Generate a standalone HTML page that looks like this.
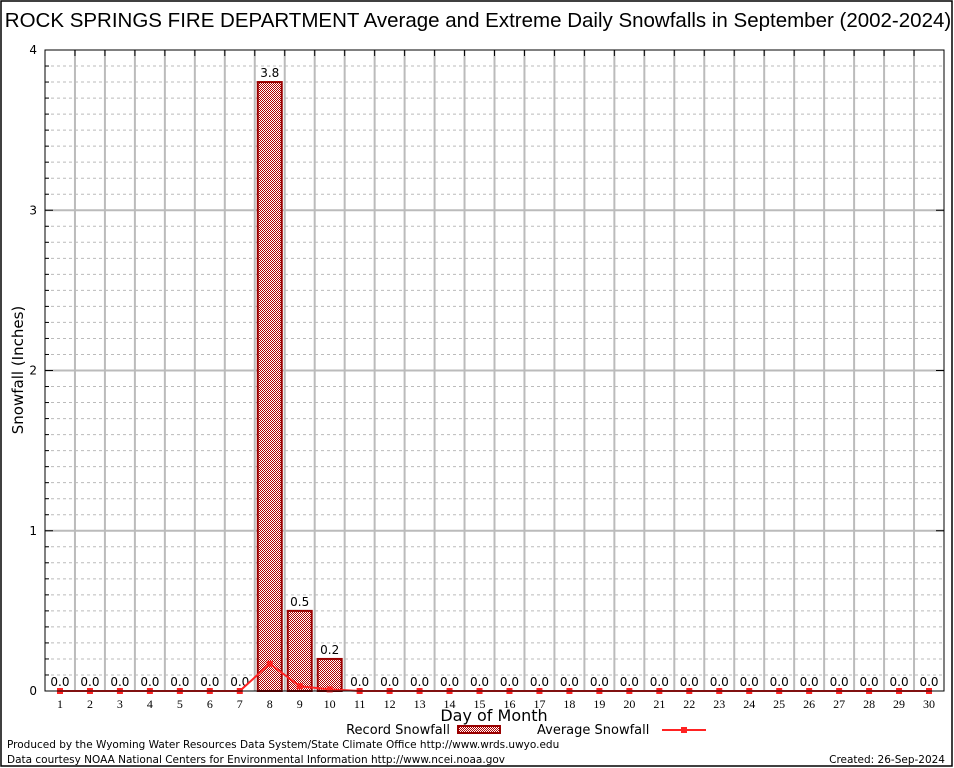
<!DOCTYPE html>
<html><head><meta charset="utf-8"><style>
body{margin:0;background:#fff;}
svg{display:block;font-family:"DejaVu Sans","Liberation Sans",sans-serif;}
</style></head><body>
<svg id="chart" width="954" height="768" viewBox="0 0 954 768">
<defs>
<pattern id="chk" width="2" height="2" patternUnits="userSpaceOnUse">
<rect width="2" height="2" fill="#fff"/><rect width="1" height="1" fill="#b00000"/><rect x="1" y="1" width="1" height="1" fill="#b00000"/>
</pattern>
</defs>
<rect x="1" y="1" width="951" height="765" fill="none" stroke="#000" stroke-width="1.5"/>
<text x="478" y="27" font-size="20.5" text-anchor="middle" font-family="Liberation Sans, sans-serif">ROCK SPRINGS FIRE DEPARTMENT Average and Extreme Daily Snowfalls in September (2002-2024)</text>
<g id="grid"></g>
<g id="marks"></g>
<rect x="45" y="50" width="899" height="641" fill="none" stroke="#000" stroke-width="1"/>
<text x="23" y="370" font-size="15" text-anchor="middle" transform="rotate(-90 23 370)">Snowfall (Inches)</text>
<text x="494" y="721" font-size="16" text-anchor="middle">Day of Month</text>
<g>
<text x="450" y="734" font-size="13" text-anchor="end">Record Snowfall</text>
<rect x="458" y="726" width="42" height="7" fill="url(#chk)" stroke="#900" stroke-width="2"/>
<text x="537" y="734" font-size="13">Average Snowfall</text>
<line x1="662" y1="730" x2="706" y2="730" stroke="#f22" stroke-width="2"/>
<rect x="681" y="727" width="6" height="6" fill="#f22"/>
</g>
<text x="7" y="748" font-size="10.5">Produced by the Wyoming Water Resources Data System/State Climate Office http://www.wrds.uwyo.edu</text>
<text x="7" y="763" font-size="10.5">Data courtesy NOAA National Centers for Environmental Information http://www.ncei.noaa.gov</text>
<text x="945" y="763" font-size="10.5" text-anchor="end">Created: 26-Sep-2024</text>
</svg>
<script>
const days = [1,2,3,4,5,6,7,8,9,10,11,12,13,14,15,16,17,18,19,20,21,22,23,24,25,26,27,28,29,30];
const recordSnow = [0,0,0,0,0,0,0,3.8,0.5,0.2,0,0,0,0,0,0,0,0,0,0,0,0,0,0,0,0,0,0,0,0];
const avgSnow = [0,0,0,0,0,0,0,0.17,0.03,0.01,0,0,0,0,0,0,0,0,0,0,0,0,0,0,0,0,0,0,0,0];
const yTicks = [0,1,2,3,4];
const NS='http://www.w3.org/2000/svg';
const L=45,R=944,T=50,B=691,yMax=4;
const slot=(R-L)/days.length;
function xPos(i){return L+(i+0.5)*slot;}
function yPos(v){return B-(v/yMax)*(B-T);}
function mk(tag,attrs,parent){const e=document.createElementNS(NS,tag);for(const k in attrs)e.setAttribute(k,attrs[k]);parent.appendChild(e);return e;}
const grid=document.getElementById('grid'),marks=document.getElementById('marks');
for(let v=0;v<=yMax*10;v++){const val=v/10;if(v%10===0)continue;
 const l=mk('line',{x1:L,x2:R,y1:yPos(val),y2:yPos(val),stroke:'#bbb','stroke-dasharray':'3,3'},grid);
 
 
 mk('line',{x1:L,x2:L+4,y1:yPos(val),y2:yPos(val),stroke:'#000'},grid);}
yTicks.forEach(v=>{
 if(v>0&&v<yMax){const l=mk('line',{x1:L,x2:R,y1:yPos(v),y2:yPos(v),stroke:'#bbb','stroke-width':2},grid);
 
 }
 mk('line',{x1:L,x2:L+8,y1:yPos(v),y2:yPos(v),stroke:'#000'},grid);
 mk('line',{x1:R-8,x2:R,y1:yPos(v),y2:yPos(v),stroke:'#000'},grid);
 const t=mk('text',{x:L-8,y:yPos(v)+4,'font-size':12,'text-anchor':'end'},grid);t.textContent=v;
 
 
});
days.forEach((d,i)=>{
 if(i>0){const l=mk('line',{x1:L+i*slot,x2:L+i*slot,y1:T,y2:B,stroke:'#bbb','stroke-width':2},grid);
 
 
 mk('line',{x1:L+i*slot,x2:L+i*slot,y1:T,y2:T+6,stroke:'#000'},grid);}
 const t=mk('text',{x:xPos(i),y:B+17,'font-size':12,'text-anchor':'middle','font-family':'Liberation Serif, serif'},grid);t.textContent=d;
 
 
});
days.forEach((d,i)=>{
 const v=recordSnow[i];
 if(v>0){const b=mk('rect',{x:xPos(i)-12,y:yPos(v),width:24,height:B-yPos(v),fill:'url(#chk)',stroke:'#900','stroke-width':2},marks);
 
 }
 const t=mk('text',{x:xPos(i),y:yPos(v)-5,'font-size':12,'text-anchor':'middle'},marks);t.textContent=v.toFixed(1);
 
 
});
const pts=avgSnow.map((v,i)=>xPos(i)+','+yPos(v)).join(' ');
const pl=mk('polyline',{points:pts,fill:'none',stroke:'#f22','stroke-width':2},marks);


avgSnow.forEach((v,i)=>{const c=mk('rect',{x:xPos(i)-3,y:yPos(v)-3,width:6,height:6,fill:'#f22'},marks);
 
 });
</script>
</body></html>
